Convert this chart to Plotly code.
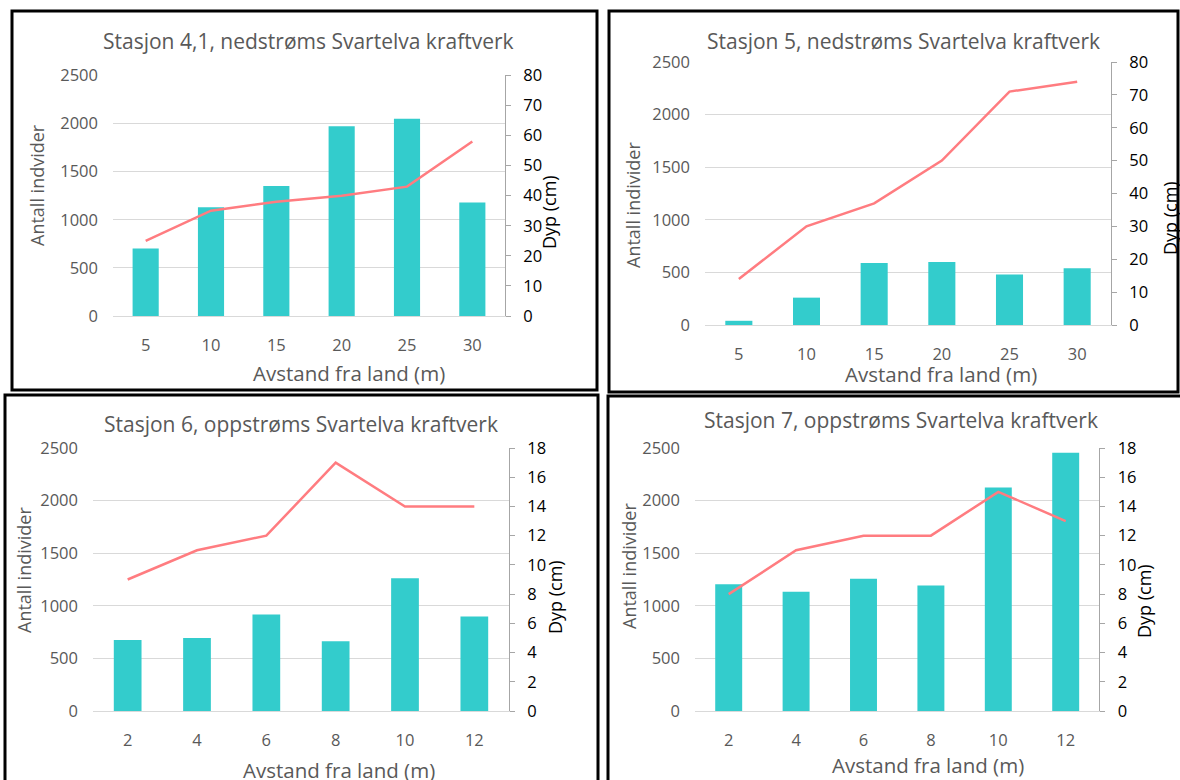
import plotly.graph_objects as go

W, H = 1180, 780

# ---- data -------------------------------------------------------------
dist_41 = ["5", "10", "15", "20", "25", "30"]
count_41 = [700, 1130, 1350, 1970, 2050, 1180]
depth_41 = [25, 35, 38, 40, 43, 58]

dist_5 = ["5", "10", "15", "20", "25", "30"]
count_5 = [40, 260, 590, 600, 480, 540]
depth_5 = [14, 30, 37, 50, 71, 74]

dist_6 = ["2", "4", "6", "8", "10", "12"]
count_6 = [675, 695, 917, 663, 1263, 898]
depth_6 = [9, 11, 12, 17, 14, 14]

dist_7 = ["2", "4", "6", "8", "10", "12"]
count_7 = [1205, 1133, 1256, 1193, 2125, 2456]
depth_7 = [8, 11, 12, 12, 15, 13]

titles = [
    "Stasjon 4,1, nedstrøms Svartelva kraftverk",
    "Stasjon 5, nedstrøms Svartelva kraftverk",
    "Stasjon 6, oppstrøms Svartelva kraftverk",
    "Stasjon 7, oppstrøms Svartelva kraftverk",
]
left_titles = ["Antall indvider", "Antall individer", "Antall individer", "Antall individer"]
right_title = "Dyp (cm)"
x_title = "Avstand fra land (m)"

# ---- styling ------------------------------------------------------------
FONT = "Open Sans"
GREY_TXT = "#595959"
BAR_COL = "#33CCCC"
LINE_COL = "#FF7C80"
GRID = "#D9D9D9"
AX2 = "#A6A6A6"
TICK_SIZE = 16.5


def fx(p):
    return p / W


def fy(p):
    return 1 - p / H


# pixel geometry of each panel
panels = [
    dict(dist=dist_41, count=count_41, depth=depth_41, dmax=80, dstep=10,
         plot=(113, 75.3, 505, 316), border=(12, 11, 597, 390),
         title=(308, 41), ltitle=(37, 185), rtitle=(549, 212), xtitle=(349, 373)),
    dict(dist=dist_5, count=count_5, depth=depth_5, dmax=80, dstep=10,
         plot=(705, 62, 1111, 325), border=(609, 11, 1178, 392),
         title=(903, 41), ltitle=(633, 205), rtitle=(1170, 218), xtitle=(941, 374)),
    dict(dist=dist_6, count=count_6, depth=depth_6, dmax=18, dstep=2,
         plot=(93, 448, 509, 711), border=(5, 395, 598, 790),
         title=(301, 424), ltitle=(24, 570), rtitle=(555, 597), xtitle=(339, 770)),
    dict(dist=dist_7, count=count_7, depth=depth_7, dmax=18, dstep=2,
         plot=(695, 448, 1099.4, 711), border=(608, 396, 1190, 790),
         title=(901, 420), ltitle=(629, 566), rtitle=(1144, 601), xtitle=(928, 765)),
]

fig = go.Figure()
layout = dict(
    template="none",
    width=W, height=H, margin=dict(l=0, r=0, t=0, b=0, pad=0, autoexpand=False),
    paper_bgcolor="white", plot_bgcolor="white",
    showlegend=False, bargap=0.6,
    font=dict(family=FONT, color=GREY_TXT),
)
annotations = []
shapes = []

for i, p in enumerate(panels):
    k = i + 1
    xa = f"x{k}" if k > 1 else "x"
    yl_n = 2 * k - 1
    yr_n = 2 * k
    yl = f"y{yl_n}" if yl_n > 1 else "y"
    yr = f"y{yr_n}"
    x0, y0, x1, y1 = p["plot"]

    fig.add_trace(go.Bar(x=p["dist"], y=p["count"], marker_color=BAR_COL,
                         marker_line_width=0, xaxis=xa, yaxis=yl))
    fig.add_trace(go.Scatter(x=p["dist"], y=p["depth"], mode="lines",
                             line=dict(color=LINE_COL, width=2.5),
                             xaxis=xa, yaxis=yr))

    xkey = "xaxis" if k == 1 else f"xaxis{k}"
    ylkey = "yaxis" if yl_n == 1 else f"yaxis{yl_n}"
    yrkey = f"yaxis{yr_n}"

    layout[xkey] = dict(
        domain=[fx(x0), fx(x1)], anchor=yl, type="category", automargin=False,
        showline=True, linecolor=GRID, linewidth=1, showgrid=False, zeroline=False,
        ticks="", tickfont=dict(size=TICK_SIZE, color=GREY_TXT, family=FONT),
        ticklabelstandoff=14, fixedrange=True,
    )
    layout[ylkey] = dict(
        domain=[fy(y1), fy(y0)], anchor=xa, range=[0, 2500], dtick=500,
        automargin=False,
        showgrid=True, gridcolor=GRID, gridwidth=1, zeroline=False,
        showline=False, ticks="",
        tickfont=dict(size=TICK_SIZE, color=GREY_TXT, family=FONT),
        ticklabelstandoff=14, fixedrange=True,
    )
    layout[yrkey] = dict(
        domain=[fy(y1), fy(y0)], anchor=xa, overlaying=yl, side="right",
        automargin=False,
        range=[0, p["dmax"]], dtick=p["dstep"], showgrid=False, zeroline=False,
        showline=True, linecolor=AX2, linewidth=1,
        ticks="outside", ticklen=5, tickcolor=AX2, tickwidth=1,
        tickfont=dict(size=TICK_SIZE, color="black", family=FONT),
        ticklabelstandoff=9, fixedrange=True,
    )

    tx, ty = p["title"]
    annotations.append(dict(text=titles[i], x=fx(tx), y=fy(ty), xref="paper", yref="paper",
                            xanchor="center", yanchor="middle", showarrow=False,
                            font=dict(size=21, color=GREY_TXT, family=FONT)))
    lx, ly = p["ltitle"]
    annotations.append(dict(text=left_titles[i], x=fx(lx), y=fy(ly), xref="paper", yref="paper",
                            xanchor="center", yanchor="middle", showarrow=False, textangle=-90,
                            font=dict(size=18, color=GREY_TXT, family=FONT)))
    rx, ry = p["rtitle"]
    annotations.append(dict(text=right_title, x=fx(rx), y=fy(ry), xref="paper", yref="paper",
                            xanchor="center", yanchor="middle", showarrow=False, textangle=-90,
                            font=dict(size=18, color="black", family=FONT)))
    ax_, ay_ = p["xtitle"]
    annotations.append(dict(text=x_title, x=fx(ax_), y=fy(ay_), xref="paper", yref="paper",
                            xanchor="center", yanchor="middle", showarrow=False,
                            font=dict(size=20.5, color=GREY_TXT, family=FONT)))

    bx0, by0, bx1, by1 = p["border"]
    shapes.append(dict(type="rect", xref="paper", yref="paper",
                       x0=fx(bx0), x1=fx(bx1), y0=fy(by1), y1=fy(by0),
                       line=dict(color="black", width=3), layer="above"))

layout["annotations"] = annotations
layout["shapes"] = shapes
fig.update_layout(**layout)

fig.write_html("out.html")
